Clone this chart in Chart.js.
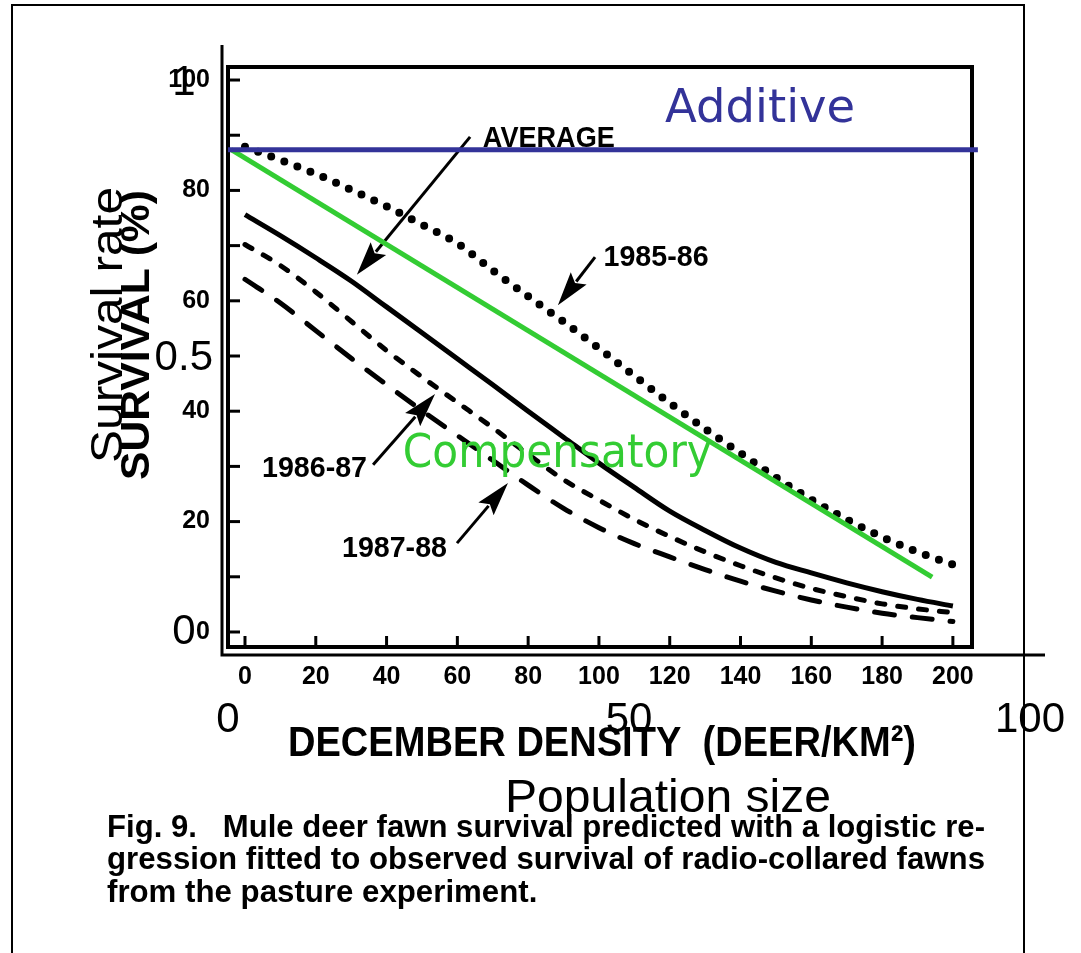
<!DOCTYPE html>
<html>
<head>
<meta charset="utf-8">
<script src="https://cdn.jsdelivr.net/npm/chart.js@4.4.1/dist/chart.umd.min.js"></script>
<style>
html,body{margin:0;padding:0;background:#fff;width:1081px;height:953px;overflow:hidden}
#wrap{position:relative;width:1081px;height:953px}
canvas{position:absolute;left:0;top:0}
#page{position:absolute;left:11px;top:4px;width:1010px;height:970px;border:2px solid #000;border-bottom:none}
</style>
</head>
<body>
<div id="wrap">
<div id="page"></div>
<canvas id="inner" width="1081" height="953"></canvas>
<canvas id="outer" width="1081" height="953"></canvas>
</div>
<script>
// ---------- scanned figure (inner chart) ----------
const density = [0,10,20,30,40,50,60,70,80,90,100,110,120,130,140,150,160,170,180,190,200];
const survival1985_86 = [87.9,85.5,83.0,80.1,77.1,73.8,70.4,65.5,60.8,56.2,51.4,46.4,41.5,36.8,32.4,28.0,24.0,20.4,17.2,14.5,12.2];
const survivalAverage = [75.6,71.8,67.8,63.6,58.9,54.2,49.5,44.8,40.0,35.3,30.6,26.2,21.9,18.4,15.2,12.6,10.7,8.9,7.3,5.9,4.7];
const survival1986_87 = [70.2,66.4,61.6,56.3,51.0,46.2,41.6,37.0,32.2,27.6,23.9,20.4,17.3,14.5,12.0,9.8,7.9,6.4,5.1,4.2,3.5];
const survival1987_88 = [63.9,59.6,54.6,49.6,44.8,40.1,35.6,31.1,26.6,22.4,18.9,16.0,13.6,11.3,9.2,7.4,5.8,4.5,3.4,2.6,1.9];
const densityTicks = [0,20,40,60,80,100,120,140,160,180,200];
const survivalTicks = [0,10,20,30,40,50,60,70,80,90,100];
const survivalLabelStep = 20;

// ---------- overlay (outer chart) ----------
const additivePopulation = [0, 93.5];
const additiveRate = [0.88, 0.88];
const compensatoryPopulation = [0.4, 87.8];
const compensatoryRate = [0.88, 0.1];
const populationTicks = [0, 50, 100];
const rateTicks = [0, 0.5, 1];

const pts = (xs, ys) => xs.map((x, i) => ({x, y: ys[i]}));

// annotation arrows / labels (inner data units)
const innerNotes = [
  {text:'AVERAGE', lx:67.2, ly:87.9, w:132, tail:[63.6,89.7], tip:[31.6,64.7]},
  {text:'1985-86', lx:101.3, ly:66.3, w:105, tail:[98.9,67.9], tip:[88.4,59.2]},
  {text:'1986-87', lx:4.8, ly:28.0, w:105, tail:[36.2,30.3], tip:[53.7,43.1]},
  {text:'1987-88', lx:27.4, ly:13.6, w:105, tail:[59.9,16.1], tip:[74.3,27.0]}
];

function fitText(ctx, text, x, y, font, width, color, rot) {
  ctx.save();
  ctx.font = font;
  const w = ctx.measureText(text).width;
  ctx.translate(x, y);
  if (rot) ctx.rotate(rot);
  ctx.scale(width ? width / w : 1, 1);
  ctx.fillStyle = color || '#000';
  ctx.textAlign = 'left';
  ctx.textBaseline = 'alphabetic';
  ctx.fillText(text, 0, 0);
  ctx.restore();
}

function justify(ctx, text, x, y, width, font, last, lastScale) {
  ctx.save();
  ctx.font = font;
  ctx.fillStyle = '#000';
  ctx.textBaseline = 'alphabetic';
  const words = text.split(' ');
  const space = ctx.measureText(' ').width;
  const ws = words.map(w => ctx.measureText(w).width);
  const sum = ws.reduce((a, b) => a + b, 0);
  let gap = space, sx = 1;
  const natural = sum + space * (words.length - 1);
  if (last) {
    sx = lastScale || 1;
  } else if (natural > width) {
    sx = width / natural;
  } else {
    gap = (width - sum) / (words.length - 1);
  }
  ctx.translate(x, y);
  ctx.scale(sx, 1);
  let cx = 0;
  words.forEach((w, i) => { if (w) ctx.fillText(w, cx, 0); cx += ws[i] + gap; });
  ctx.restore();
  return natural > width ? width / natural : 1;
}

function arrow(ctx, x1, y1, x2, y2) {
  const a = Math.atan2(y2 - y1, x2 - x1);
  const hl = 34, hw = 10;
  const bx = x2 - hl * Math.cos(a), by = y2 - hl * Math.sin(a);
  ctx.save();
  ctx.strokeStyle = '#000'; ctx.fillStyle = '#000'; ctx.lineWidth = 3;
  ctx.beginPath(); ctx.moveTo(x1, y1); ctx.lineTo(bx + 4 * Math.cos(a), by + 4 * Math.sin(a)); ctx.stroke();
  ctx.beginPath();
  ctx.moveTo(x2, y2);
  ctx.lineTo(bx + hw * Math.sin(a), by - hw * Math.cos(a));
  ctx.lineTo(bx + 6 * Math.cos(a), by + 6 * Math.sin(a));
  ctx.lineTo(bx - hw * Math.sin(a), by + hw * Math.cos(a));
  ctx.closePath(); ctx.fill();
  ctx.restore();
}

// keep the plot frames exactly where the figure has them (no label overflow padding)
const noPad = s => { s.paddingLeft = 0; s.paddingRight = 0; s.paddingTop = 0; s.paddingBottom = 0; };

const innerDecor = {
  id: 'innerDecor',
  afterDraw(chart) {
    const {ctx, chartArea: ca, scales: {x, y}} = chart;
    ctx.save();
    ctx.strokeStyle = '#000';
    ctx.lineWidth = 4;
    ctx.strokeRect(ca.left, ca.top, ca.right - ca.left, ca.bottom - ca.top);
    ctx.lineWidth = 3;
    y.ticks.forEach(t => {
      const py = y.getPixelForValue(t.value);
      ctx.beginPath(); ctx.moveTo(ca.left, py); ctx.lineTo(ca.left + 12, py); ctx.stroke();
    });
    x.ticks.forEach(t => {
      const px = x.getPixelForValue(t.value);
      ctx.beginPath(); ctx.moveTo(px, ca.bottom); ctx.lineTo(px, ca.bottom - 11); ctx.stroke();
    });
    ctx.restore();

    innerNotes.forEach(n => {
      arrow(ctx, x.getPixelForValue(n.tail[0]), y.getPixelForValue(n.tail[1]),
                 x.getPixelForValue(n.tip[0]), y.getPixelForValue(n.tip[1]));
      fitText(ctx, n.text, x.getPixelForValue(n.lx), y.getPixelForValue(n.ly),
              'bold 30px "Liberation Sans", Arial, sans-serif', n.w);
    });

    // axis titles of the scanned figure
    fitText(ctx, 'SURVIVAL (%)', 149, 480, 'bold 40px "Liberation Sans", Arial, sans-serif', 290, '#000', -Math.PI / 2);
    fitText(ctx, 'DECEMBER DENSITY  (DEER/KM\u00B2)', 288, 756, 'bold 43px "Liberation Sans", Arial, sans-serif', 628);

    // caption
    const cf = 'bold 32px "Liberation Sans", Arial, sans-serif';
    justify(ctx, 'Fig. 9.   Mule deer fawn survival predicted with a logistic re-', 107, 837, 878, cf, false);
    const s2 = justify(ctx, 'gression fitted to observed survival of radio-collared fawns', 107, 869, 878, cf, false);
    justify(ctx, 'from the pasture experiment.', 107, 902, 878, cf, true, s2);
  }
};

new Chart(document.getElementById('inner'), {
  type: 'line',
  data: {
    datasets: [
      {label: '1985-86', data: pts(density, survival1985_86), borderColor: '#000', borderWidth: 8,
       borderDash: [0, 14], borderCapStyle: 'round', pointRadius: 0, cubicInterpolationMode: 'monotone'},
      {label: 'AVERAGE', data: pts(density, survivalAverage), borderColor: '#000', borderWidth: 5,
       pointRadius: 0, cubicInterpolationMode: 'monotone'},
      {label: '1986-87', data: pts(density, survival1986_87), borderColor: '#000', borderWidth: 5,
       borderDash: [8, 13], borderCapStyle: 'round', pointRadius: 0, cubicInterpolationMode: 'monotone'},
      {label: '1987-88', data: pts(density, survival1987_88), borderColor: '#000', borderWidth: 5,
       borderDash: [20, 18], borderCapStyle: 'round', pointRadius: 0, cubicInterpolationMode: 'monotone'}
    ]
  },
  options: {
    responsive: false, animation: false, devicePixelRatio: 1,
    layout: {autoPadding: false, padding: {left: 0, top: 67, right: 1081 - 972, bottom: 953 - 647 - 60}},
    plugins: {legend: {display: false}, tooltip: {enabled: false}},
    scales: {
      x: {
        type: 'linear', min: -4.8, max: 205.4,
        afterFit: s => { s.height = 60; noPad(s); },
        afterBuildTicks: s => { s.ticks = densityTicks.map(v => ({value: v})); },
        grid: {display: false, drawTicks: false}, border: {display: false},
        ticks: {padding: 15, color: '#000', maxRotation: 0, autoSkip: false,
                font: {family: '"Liberation Sans", Arial, sans-serif', weight: 'bold', size: 25}}
      },
      y: {
        type: 'linear', min: -2.72, max: 102.36,
        afterFit: s => { s.width = 228; noPad(s); },
        afterBuildTicks: s => { s.ticks = survivalTicks.map(v => ({value: v})); },
        grid: {display: false, drawTicks: false}, border: {display: false},
        ticks: {padding: 18, color: '#000', autoSkip: false,
                callback: v => (v % survivalLabelStep === 0 ? String(v) : ''),
                font: {family: '"Liberation Sans", Arial, sans-serif', weight: 'bold', size: 25}}
      }
    }
  },
  plugins: [innerDecor]
});

const outerDecor = {
  id: 'outerDecor',
  afterDraw(chart) {
    const {ctx, chartArea: ca, scales: {x, y}} = chart;
    ctx.save();
    ctx.strokeStyle = '#000';
    ctx.lineWidth = 3;
    ctx.beginPath();
    ctx.moveTo(ca.left, ca.top); ctx.lineTo(ca.left, ca.bottom); ctx.lineTo(ca.right, ca.bottom);
    ctx.stroke();
    ctx.restore();
    fitText(ctx, 'Survival rate', 122, 463, '44px "Liberation Sans", Arial, sans-serif', 276, '#000', -Math.PI / 2);
    fitText(ctx, 'Population size', 505, 812, '46px "Liberation Sans", Arial, sans-serif', 326);
    fitText(ctx, 'Additive', x.getPixelForValue(54.5), y.getPixelForValue(0.93),
            '47px "DejaVu Sans", sans-serif', 190, '#333399');
    fitText(ctx, 'Compensatory', x.getPixelForValue(21.8), y.getPixelForValue(0.301),
            '46px "DejaVu Sans", sans-serif', 309, '#33cc33');
  }
};

new Chart(document.getElementById('outer'), {
  type: 'line',
  data: {
    datasets: [
      {label: 'Additive', data: pts(additivePopulation, additiveRate), borderColor: '#333399',
       borderWidth: 5, pointRadius: 0},
      {label: 'Compensatory', data: pts(compensatoryPopulation, compensatoryRate), borderColor: '#33cc33',
       borderWidth: 5, pointRadius: 0}
    ]
  },
  options: {
    responsive: false, animation: false, devicePixelRatio: 1,
    layout: {autoPadding: false, padding: {left: 0, top: 45, right: 1081 - 1045, bottom: 953 - 655 - 100}},
    plugins: {legend: {display: false}, tooltip: {enabled: false}},
    scales: {
      x: {
        type: 'linear', min: -0.75, max: 101.87,
        afterFit: s => { s.height = 100; noPad(s); },
        afterBuildTicks: s => { s.ticks = populationTicks.map(v => ({value: v})); },
        grid: {display: false, drawTicks: false}, border: {display: false},
        ticks: {padding: 40, color: '#000', maxRotation: 0, autoSkip: false, callback: v => String(v),
                font: {family: '"Liberation Sans", Arial, sans-serif', size: 42}}
      },
      y: {
        type: 'linear', min: -0.042, max: 1.071,
        afterFit: s => { s.width = 222; noPad(s); },
        afterBuildTicks: s => { s.ticks = rateTicks.map(v => ({value: v})); },
        grid: {display: false, drawTicks: false}, border: {display: false},
        ticks: {padding: 9, crossAlign: 'center', color: '#000', autoSkip: false, callback: v => String(v),
                font: {family: '"Liberation Sans", Arial, sans-serif', size: 42}}
      }
    }
  },
  plugins: [outerDecor]
});
</script>
</body>
</html>
